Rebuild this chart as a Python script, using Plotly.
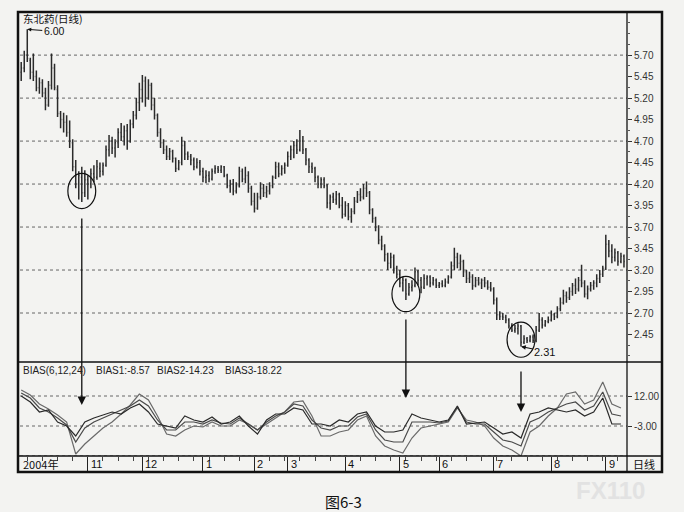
import plotly.graph_objects as go

# ---------------- data ----------------
opens = [
5.50,5.55,5.70,5.64,5.50,5.45,5.32,5.38,5.26,5.12,
5.35,5.55,5.30,5.02,4.95,4.92,4.80,4.68,4.40,4.20,
4.28,4.10,4.25,4.20,4.32,4.28,4.38,4.35,4.42,4.60,
4.70,4.62,4.68,4.80,4.75,4.82,4.70,4.90,5.00,5.15,
5.30,5.40,5.20,5.35,5.12,5.00,4.80,4.68,4.60,4.52,
4.58,4.50,4.38,4.45,4.65,4.55,4.52,4.48,4.40,4.45,
4.35,4.28,4.30,4.26,4.35,4.38,4.36,4.40,4.30,4.18,
4.20,4.12,4.18,4.35,4.26,4.30,4.15,4.00,3.92,4.05,
4.15,4.10,4.12,4.18,4.28,4.40,4.32,4.38,4.42,4.52,
4.60,4.65,4.60,4.70,4.60,4.48,4.40,4.38,4.28,4.20,
4.25,4.18,3.98,4.05,4.02,4.08,3.95,3.85,3.95,3.82,
3.88,4.00,4.08,4.05,4.15,4.10,3.90,3.80,3.70,3.55,
3.48,3.38,3.28,3.35,3.22,3.15,3.05,3.08,2.92,3.00,
3.02,3.18,3.08,3.00,3.10,3.12,3.05,3.08,3.02,3.04,
3.02,3.06,3.12,3.25,3.35,3.28,3.30,3.18,3.10,3.12,
3.02,3.08,3.05,3.08,3.05,3.00,2.98,2.85,2.68,2.66,
2.65,2.62,2.55,2.50,2.52,2.55,2.36,2.40,2.38,2.42,
2.38,2.50,2.62,2.56,2.60,2.62,2.68,2.66,2.75,2.82,
2.90,2.88,2.95,3.02,2.98,3.08,3.05,2.92,2.98,3.02,
3.05,3.10,3.15,3.22,3.50,3.42,3.35,3.40,3.30,3.36,
]
highs = [
5.62,5.75,6.00,5.67,5.72,5.52,5.44,5.42,5.32,5.40,
5.72,5.60,5.35,5.05,5.03,5.00,4.94,4.72,4.48,4.35,
4.40,4.36,4.30,4.38,4.42,4.48,4.45,4.45,4.65,4.77,
4.75,4.72,4.85,4.91,4.88,4.90,4.95,5.05,5.20,5.38,
5.47,5.45,5.42,5.38,5.20,5.02,4.85,4.72,4.65,4.62,
4.60,4.51,4.48,4.75,4.70,4.58,4.55,4.51,4.50,4.48,
4.39,4.36,4.35,4.38,4.42,4.41,4.42,4.41,4.32,4.25,
4.26,4.22,4.40,4.38,4.40,4.35,4.18,4.10,4.10,4.22,
4.20,4.18,4.22,4.30,4.46,4.45,4.42,4.45,4.58,4.65,
4.70,4.72,4.83,4.76,4.62,4.50,4.45,4.40,4.30,4.28,
4.28,4.20,4.08,4.10,4.12,4.10,4.05,4.00,3.98,3.92,
4.05,4.12,4.15,4.20,4.23,4.12,3.92,3.82,3.72,3.60,
3.50,3.40,3.40,3.38,3.25,3.20,3.12,3.10,3.05,3.08,
3.23,3.20,3.12,3.15,3.14,3.14,3.12,3.10,3.06,3.08,
3.10,3.14,3.30,3.46,3.40,3.38,3.32,3.20,3.18,3.15,
3.12,3.12,3.10,3.12,3.08,3.06,3.00,2.88,2.72,2.70,
2.68,2.64,2.58,2.56,2.58,2.56,2.44,2.42,2.44,2.45,
2.55,2.70,2.65,2.62,2.66,2.73,2.70,2.78,2.88,2.97,
2.95,3.00,3.05,3.10,3.12,3.26,3.08,3.02,3.06,3.08,
3.15,3.20,3.25,3.61,3.55,3.50,3.45,3.42,3.40,3.38,
]
lows = [
5.40,5.50,5.62,5.42,5.40,5.28,5.25,5.21,5.06,5.10,
5.30,5.29,4.98,4.85,4.80,4.75,4.62,4.35,4.15,4.02,
3.99,4.05,4.02,4.15,4.22,4.25,4.28,4.30,4.40,4.52,
4.55,4.51,4.62,4.70,4.65,4.60,4.68,4.85,4.95,5.05,
5.15,5.10,5.18,5.06,4.95,4.75,4.62,4.55,4.48,4.48,
4.45,4.34,4.36,4.42,4.48,4.48,4.42,4.36,4.38,4.30,
4.22,4.21,4.22,4.24,4.32,4.33,4.33,4.28,4.15,4.10,
4.07,4.09,4.16,4.22,4.21,4.10,3.95,3.87,3.90,4.02,
4.05,4.04,4.08,4.15,4.26,4.28,4.30,4.32,4.40,4.48,
4.50,4.55,4.58,4.55,4.42,4.33,4.33,4.22,4.15,4.15,
4.15,3.92,3.90,3.98,3.96,3.92,3.80,3.82,3.78,3.75,
3.85,3.98,4.00,4.02,4.05,3.85,3.75,3.65,3.50,3.43,
3.30,3.20,3.22,3.16,3.10,3.00,2.95,2.85,2.90,2.95,
3.00,3.02,2.93,2.98,3.02,3.00,3.02,2.99,2.99,3.00,
3.00,3.04,3.10,3.20,3.22,3.20,3.12,3.05,3.05,2.97,
3.00,3.02,2.98,3.00,2.97,2.95,2.80,2.62,2.62,2.62,
2.58,2.52,2.48,2.47,2.45,2.31,2.34,2.35,2.36,2.35,
2.36,2.48,2.52,2.54,2.58,2.60,2.62,2.64,2.72,2.80,
2.82,2.85,2.90,2.92,2.95,3.00,2.88,2.86,2.95,2.97,
3.00,3.05,3.12,3.20,3.35,3.28,3.30,3.25,3.28,3.23,
]
closes = [
5.55,5.70,5.66,5.50,5.45,5.32,5.38,5.26,5.12,5.35,
5.55,5.32,5.02,4.95,4.92,4.80,4.70,4.40,4.20,4.30,
4.10,4.25,4.20,4.32,4.28,4.40,4.35,4.42,4.60,4.70,
4.62,4.68,4.80,4.75,4.82,4.70,4.90,5.00,5.15,5.30,
5.40,5.20,5.35,5.12,5.00,4.80,4.68,4.60,4.52,4.58,
4.50,4.38,4.45,4.65,4.55,4.52,4.48,4.40,4.45,4.35,
4.28,4.30,4.26,4.35,4.38,4.36,4.40,4.30,4.18,4.20,
4.12,4.18,4.35,4.26,4.30,4.15,4.00,3.92,4.05,4.15,
4.10,4.12,4.18,4.28,4.40,4.32,4.38,4.42,4.52,4.60,
4.65,4.60,4.70,4.60,4.48,4.40,4.38,4.28,4.20,4.25,
4.18,3.98,4.05,4.02,4.08,3.95,3.85,3.95,3.82,3.88,
4.00,4.08,4.05,4.15,4.10,3.90,3.80,3.70,3.55,3.48,
3.38,3.28,3.35,3.22,3.15,3.05,3.08,2.92,3.00,3.02,
3.18,3.08,3.00,3.10,3.12,3.05,3.08,3.02,3.04,3.02,
3.06,3.12,3.25,3.35,3.28,3.30,3.18,3.10,3.12,3.02,
3.08,3.05,3.08,3.05,3.00,2.98,2.85,2.68,2.66,2.65,
2.62,2.55,2.50,2.52,2.55,2.36,2.40,2.38,2.42,2.38,
2.50,2.62,2.56,2.60,2.62,2.68,2.66,2.75,2.82,2.90,
2.88,2.95,3.02,2.98,3.08,3.05,2.92,2.98,3.02,3.05,
3.10,3.15,3.22,3.50,3.42,3.35,3.40,3.30,3.36,3.30,
]
bar_idx = list(range(len(closes)))

bias_idx = list(range(0, 199, 3))
bias1 = [12, 9, 4, 5, -1, -3, -8, -1, 1, 2.5,
         4, 3, 6, 8, 4, -2, -3, -4, 2, 0,
         -1, 1.5, -2, -1, 2, -3, -7, 0, 3, 3,
         6, 5, -2, -2, -3, 0, -1, 3, 4, -3,
         -6, -6, -5, 3, 1, 0, -1, 0, 7, -2,
         -1.5, -1, -4, -7, -6, -9, 3, 4, 6, 5,
         4, 5, 2, 4, 11, -2, -2]
bias2 = [13.5, 11, 6, 4, 1, -2.5, -11, -4, -1, 1,
         3, 5, 7, 10, 7, 0, -5, -5, -1, -1,
         -2, 0, -1.5, -2, 1, -2, -5, -1, 2, 4,
         8, 7, 0, -4, -5, -3, -3, 1.5, 3, -5,
         -10, -11, -11, -1, -1, -1, -1.5, -0.5, 6.5, -1,
         -2, -2, -6, -10, -11, -13, -1, 1, 4, 6,
         8, 9, 5, 7, 14, 3, 2]
bias3 = [15, 12.5, 8, 5.5, 2.5, -1, -17, -12, -8, -4,
         -1, 3, 7.5, 13, 10, 2, -7, -8, -5, -3,
         -3.5, -1, -3, -3, 0, -2, -5, -2, 1, 4,
         9, 9.5, 2, -8, -8, -6, -5, 0, 2, -8,
         -13, -15, -16.5, -9, -4, -3, -2, -1, 6, 0,
         -1, -3, -9, -13, -15, -18, -6, -3, 2, 6,
         13, 14, 8, 10, 19, 8, 6]

month_start_idx = [22, 40, 60, 77, 88, 107, 125, 138, 156, 175, 193]
month_labels = ["11", "12", "1", "2", "3", "4", "5", "6", "7", "8", "9"]

price_ticks = [5.70, 5.45, 5.20, 4.95, 4.70, 4.45, 4.20, 3.95, 3.70, 3.45, 3.20, 2.95, 2.70, 2.45]
price_grid = [5.70, 5.20, 4.70, 4.20, 3.70, 3.20, 2.70]
bias_ticks = [12, -3]
bias_grid = [12, -3, -18]

circle_idx = [20, 127, 165]
circle_offset = [0.13, 0.07, 0.08]
arrow_tip_bias = [7.5, 11, 4]
arrow_len_px = [188, 80, 42]

legend_parts = ["BIAS(6,12,24)", "BIAS1:-8.57", "BIAS2-14.23", "BIAS3-18.22"]

# ---------------- figure ----------------
W, H = 684, 512
def px(x):
    return x / W
def py(y):
    return 1 - y / H

BG = "#f3f3f1"
NUMF = "Liberation Sans, Arial, sans-serif"
CJK = "Noto Sans CJK SC, sans-serif"

fig = go.Figure()
fig.add_trace(go.Ohlc(
    x=bar_idx, open=opens, high=highs, low=lows, close=closes,
    increasing=dict(line=dict(color="#2b2b2b", width=1.5)),
    decreasing=dict(line=dict(color="#2b2b2b", width=1.5)),
    tickwidth=0.3, xaxis="x", yaxis="y", hoverinfo="skip", showlegend=False))

for s, c in [(bias3, "#6a6a6a"), (bias2, "#4a4a4a"), (bias1, "#2a2a2a")]:
    fig.add_trace(go.Scatter(x=bias_idx, y=s, mode="lines", xaxis="x", yaxis="y2",
                             line=dict(color=c, width=1.2), hoverinfo="skip", showlegend=False))

shapes = []
for g in price_grid:
    shapes.append(dict(type="line", xref="paper", yref="y", x0=px(20), x1=px(627), y0=g, y1=g,
                       line=dict(color="#666", width=1, dash="dot"), layer="below"))
for g in bias_grid:
    shapes.append(dict(type="line", xref="paper", yref="y2", x0=px(20), x1=px(627), y0=g, y1=g,
                       line=dict(color="#666", width=1, dash="dot"), layer="below"))
shapes.append(dict(type="rect", xref="paper", yref="paper", x0=px(18), x1=px(662), y0=py(472), y1=py(12),
                   line=dict(color="#111", width=2.5)))
shapes.append(dict(type="line", xref="paper", yref="paper", x0=px(627), x1=px(627), y0=py(472), y1=py(12),
                   line=dict(color="#111", width=1.3)))
shapes.append(dict(type="line", xref="paper", yref="paper", x0=px(18), x1=px(662), y0=py(362), y1=py(362),
                   line=dict(color="#111", width=1.3)))
shapes.append(dict(type="line", xref="paper", yref="paper", x0=px(18), x1=px(662), y0=py(456), y1=py(456),
                   line=dict(color="#111", width=1.3)))
for i, off in zip(circle_idx, circle_offset):
    c = lows[i] + off
    shapes.append(dict(type="circle", xref="x", yref="y", x0=i - 4.6, x1=i + 4.6, y0=c - 0.205, y1=c + 0.205,
                       line=dict(color="#111", width=1.2)))

ann = []
ann.append(dict(text="东北药(日线)", x=px(21), y=py(18), xref="paper", yref="paper", xanchor="left",
                yanchor="middle", showarrow=False, font=dict(family=CJK, size=10.5, color="#111")))
imax = highs.index(max(highs))
ann.append(dict(text="%.2f" % highs[imax], x=imax, y=highs[imax], xref="x", yref="y", ax=27, ay=2,
                showarrow=True, arrowhead=2, arrowsize=0.8, arrowwidth=1, arrowcolor="#111",
                font=dict(family=NUMF, size=10.5, color="#111")))
imin = lows.index(min(lows))
ann.append(dict(text="%.2f" % lows[imin], x=imin, y=lows[imin], xref="x", yref="y", ax=24, ay=5,
                showarrow=True, arrowhead=2, arrowsize=0.8, arrowwidth=1.2, arrowcolor="#111",
                font=dict(family=NUMF, size=11, color="#111")))
for i, tip, ln in zip(circle_idx, arrow_tip_bias, arrow_len_px):
    ann.append(dict(text="", x=i, y=tip, xref="x", yref="y2", ax=0, ay=-ln, showarrow=True,
                    arrowhead=2, arrowsize=1.3, arrowwidth=1.3, arrowcolor="#111"))
for txt, xp in zip(legend_parts, [21, 94, 155, 223]):
    ann.append(dict(text=txt, x=px(xp), y=py(370), xref="paper", yref="paper", xanchor="left",
                    yanchor="middle", showarrow=False, font=dict(family=NUMF, size=10, color="#222")))
ann.append(dict(text="2004年", x=px(21), y=py(464), xref="paper", yref="paper", xanchor="left",
                yanchor="middle", showarrow=False, font=dict(family=CJK, size=11, color="#111")))
for i, lab in zip(month_start_idx, month_labels):
    ann.append(dict(text=lab, x=i, y=py(464), xref="x", yref="paper", xanchor="left", xshift=1,
                    yanchor="middle", showarrow=False, font=dict(family=NUMF, size=11, color="#111")))
ann.append(dict(text="日线", x=px(644), y=py(464), xref="paper", yref="paper", xanchor="center",
                yanchor="middle", showarrow=False, font=dict(family=CJK, size=11, color="#111")))
ann.append(dict(text="图6-3", x=px(343), y=py(501), xref="paper", yref="paper", xanchor="center",
                yanchor="middle", showarrow=False, font=dict(family=CJK, size=15, color="#111")))
ann.append(dict(text="<b>FX110</b>", x=px(610), y=py(490), xref="paper", yref="paper", xanchor="center",
                yanchor="middle", showarrow=False, font=dict(family=NUMF, size=24, color="#e2e2e2")))

fig.update_layout(
    width=W, height=H, autosize=False,
    margin=dict(l=0, r=0, t=0, b=0),
    paper_bgcolor=BG, plot_bgcolor=BG,
    showlegend=False,
    xaxis=dict(domain=[px(20), px(627)], range=[-0.4, 200], anchor="y2",
               rangeslider=dict(visible=False), showgrid=False, zeroline=False, showline=False,
               tickmode="array", tickvals=month_start_idx, ticks="outside", ticklen=15,
               tickcolor="#222", tickwidth=1, showticklabels=False,
               minor=dict(ticks="outside", ticklen=4, tickcolor="#444", dtick=5, tick0=2)),
    yaxis=dict(domain=[py(362), py(13)], range=[2.13, 6.19], side="right", anchor="x",
               tickmode="array", tickvals=price_ticks, ticktext=["%.2f" % v for v in price_ticks],
               ticks="outside", ticklen=4, tickcolor="#333", showgrid=False, zeroline=False,
               showline=False, tickfont=dict(family=NUMF, size=10, color="#333"),
               minor=dict(ticks="outside", ticklen=2, tickcolor="#555", dtick=0.125, tick0=2.45)),
    yaxis2=dict(domain=[py(456), py(362)], range=[-18, 29], side="right", anchor="x",
                tickmode="array", tickvals=bias_ticks, ticktext=["%.2f" % v for v in bias_ticks],
                ticks="outside", ticklen=4, tickcolor="#333", showgrid=False, zeroline=False,
                showline=False, tickfont=dict(family=NUMF, size=10, color="#333")),
    shapes=shapes, annotations=ann,
)

fig.write_html("out.html", config={"displayModeBar": False},
               post_script="document.body.style.margin='0';document.body.style.background='%s';" % BG)
